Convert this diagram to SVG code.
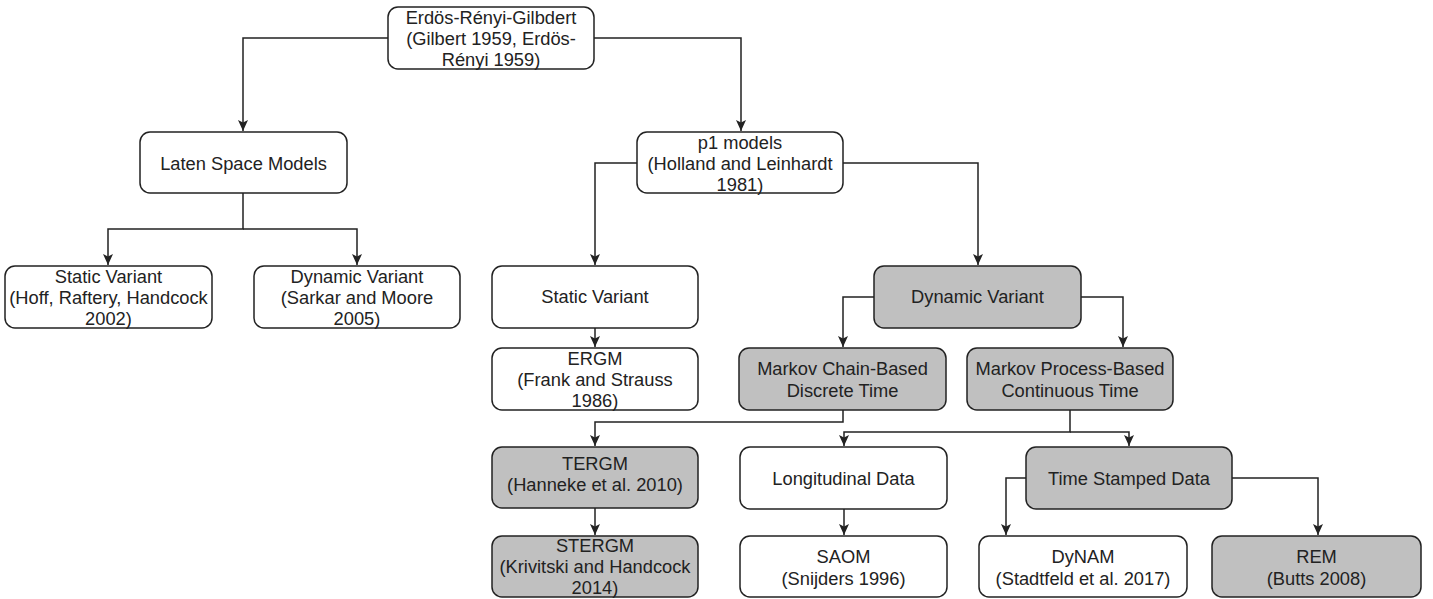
<svg xmlns="http://www.w3.org/2000/svg" width="1433" height="599" viewBox="0 0 1433 599">
<style>
.b{fill:#fff;stroke:#222;stroke-width:1.5}
.g{fill:#c0c0c0;stroke:#222;stroke-width:1.5}
text{font-family:"Liberation Sans",Arial,sans-serif;font-size:18.3px;fill:#222;text-anchor:middle}
.c path{fill:none;stroke:#222;stroke-width:1.5}
</style>
<defs>
<marker id="a" markerUnits="userSpaceOnUse" markerWidth="12" markerHeight="12" refX="11" refY="5" orient="auto">
<path d="M0,0 L11,5 L0,10 L2.5,5 z" fill="#222"/>
</marker>
</defs>
<rect width="1433" height="599" fill="#fff"/>
<g class="c">
<path d="M388,38 H243 V131" marker-end="url(#a)"/>
<path d="M594,38 H741 V131" marker-end="url(#a)"/>
<path d="M243,193 V229 H108 V265" marker-end="url(#a)"/>
<path d="M243,229 H357 V265" marker-end="url(#a)"/>
<path d="M637,163 H595 V265" marker-end="url(#a)"/>
<path d="M843,163 H978 V265" marker-end="url(#a)"/>
<path d="M595,328 V347" marker-end="url(#a)"/>
<path d="M874,297 H843 V347" marker-end="url(#a)"/>
<path d="M1081,297 H1123 V347" marker-end="url(#a)"/>
<path d="M843,410 V422 H595 V446" marker-end="url(#a)"/>
<path d="M1070,410 V432 H844 V446" marker-end="url(#a)"/>
<path d="M1070,432 H1129 V446" marker-end="url(#a)"/>
<path d="M595,508 V535" marker-end="url(#a)"/>
<path d="M844,509 V535" marker-end="url(#a)"/>
<path d="M1026,478 H1006 V535" marker-end="url(#a)"/>
<path d="M1232,478 H1318 V535" marker-end="url(#a)"/>
</g>
<g id="root"><rect class="b" x="388" y="7" width="206" height="62" rx="10"/>
<text x="491" y="24">Erdös-Rényi-Gilbdert</text><text x="491" y="45">(Gilbert 1959, Erdös-</text><text x="491" y="66">Rényi 1959)</text></g>
<g id="laten"><rect class="b" x="140" y="132" width="207" height="61" rx="10"/>
<text x="243.5" y="170">Laten Space Models</text></g>
<g id="staticL"><rect class="b" x="5" y="266" width="207" height="62" rx="10"/>
<text x="108.5" y="283">Static Variant</text><text x="108.5" y="304">(Hoff, Raftery, Handcock</text><text x="108.5" y="325">2002)</text></g>
<g id="dynL"><rect class="b" x="254" y="266" width="206" height="62" rx="10"/>
<text x="357" y="283">Dynamic Variant</text><text x="357" y="304">(Sarkar and Moore</text><text x="357" y="325">2005)</text></g>
<g id="p1"><rect class="b" x="637" y="132" width="206" height="61" rx="10"/>
<text x="740" y="149">p1 models</text><text x="740" y="170">(Holland and Leinhardt</text><text x="740" y="191">1981)</text></g>
<g id="staticM"><rect class="b" x="492" y="266" width="206" height="62" rx="10"/>
<text x="595" y="303">Static Variant</text></g>
<g id="dynM"><rect class="g" x="874" y="266" width="207" height="62" rx="10"/>
<text x="977.5" y="303">Dynamic Variant</text></g>
<g id="ergm"><rect class="b" x="492" y="348" width="206" height="62" rx="10"/>
<text x="595" y="365">ERGM</text><text x="595" y="386">(Frank and Strauss</text><text x="595" y="407">1986)</text></g>
<g id="mchain"><rect class="g" x="739" y="348" width="207" height="62" rx="10"/>
<text x="842.5" y="375">Markov Chain-Based</text><text x="842.5" y="397">Discrete Time</text></g>
<g id="mproc"><rect class="g" x="967" y="348" width="206" height="62" rx="10"/>
<text x="1070" y="375">Markov Process-Based</text><text x="1070" y="397">Continuous Time</text></g>
<g id="tergm"><rect class="g" x="492" y="447" width="206" height="61" rx="10"/>
<text x="595" y="470">TERGM</text><text x="595" y="491">(Hanneke et al. 2010)</text></g>
<g id="long"><rect class="b" x="740" y="447" width="207" height="62" rx="10"/>
<text x="843.5" y="485">Longitudinal Data</text></g>
<g id="tstamp"><rect class="g" x="1026" y="447" width="206" height="62" rx="10"/>
<text x="1129" y="485">Time Stamped Data</text></g>
<g id="stergm"><rect class="g" x="492" y="536" width="206" height="61" rx="10"/>
<text x="595" y="552">STERGM</text><text x="595" y="573">(Krivitski and Handcock</text><text x="595" y="594">2014)</text></g>
<g id="saom"><rect class="b" x="740" y="536" width="207" height="61" rx="10"/>
<text x="843.5" y="563">SAOM</text><text x="843.5" y="585">(Snijders 1996)</text></g>
<g id="dynam"><rect class="b" x="979" y="536" width="208" height="61" rx="10"/>
<text x="1083" y="563">DyNAM</text><text x="1083" y="585">(Stadtfeld et al. 2017)</text></g>
<g id="rem"><rect class="g" x="1212" y="536" width="209" height="61" rx="10"/>
<text x="1316.5" y="563">REM</text><text x="1316.5" y="585">(Butts 2008)</text></g>
</svg>
